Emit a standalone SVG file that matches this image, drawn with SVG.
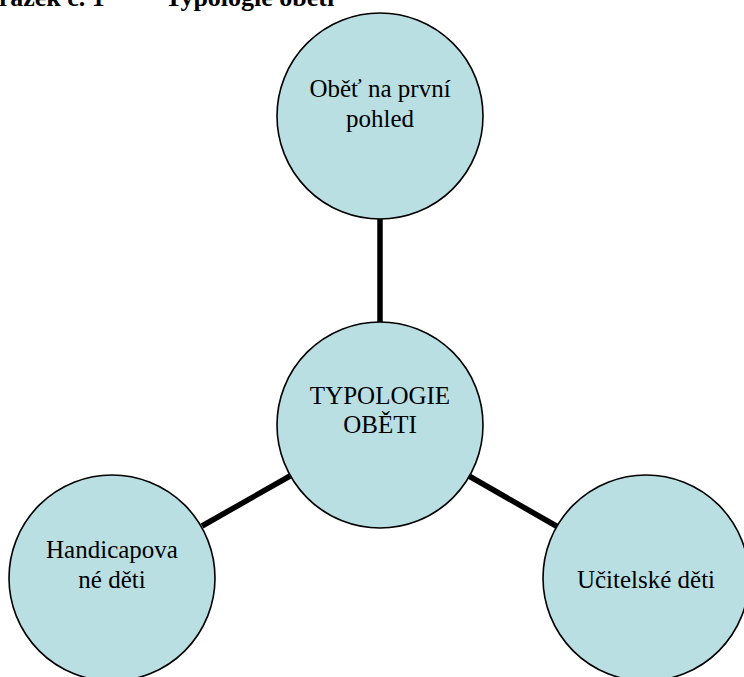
<svg xmlns="http://www.w3.org/2000/svg" width="744" height="677" viewBox="0 0 744 677">
<style>
.node circle{fill:#BADFE2;stroke:#000;stroke-width:1.6}
.node text,.title{font-family:"Liberation Serif","Times New Roman",serif;fill:#000}
.node text{font-size:25px;text-anchor:middle}
.title{font-size:26px;font-weight:bold}
.conn line{stroke:#000;stroke-width:5.5}
</style>
<rect width="744" height="677" fill="#fff"/>
<text class="title" x="-36" y="6">Obrázek č. 1</text>
<text class="title" x="165" y="6">Typologie obětí</text>
<g id="connectors" class="conn">
<line x1="380" y1="218" x2="380" y2="322"/>
<line x1="290" y1="476" x2="202" y2="526"/>
<line x1="469" y1="476" x2="558" y2="527"/>
</g>
<g id="node-top" class="node">
<circle cx="380" cy="116" r="103"/>
<text x="380" y="97">Oběť na první</text>
<text x="380" y="127">pohled</text>
</g>
<g id="node-center" class="node">
<circle cx="380" cy="425" r="103"/>
<text x="380" y="404">TYPOLOGIE</text>
<text x="380" y="433">OBĚTI</text>
</g>
<g id="node-left" class="node">
<circle cx="112" cy="578" r="103"/>
<text x="112" y="558">Handicapova</text>
<text x="112" y="588">né děti</text>
</g>
<g id="node-right" class="node">
<circle cx="646" cy="578" r="103"/>
<text x="646" y="588">Učitelské děti</text>
</g>
</svg>
